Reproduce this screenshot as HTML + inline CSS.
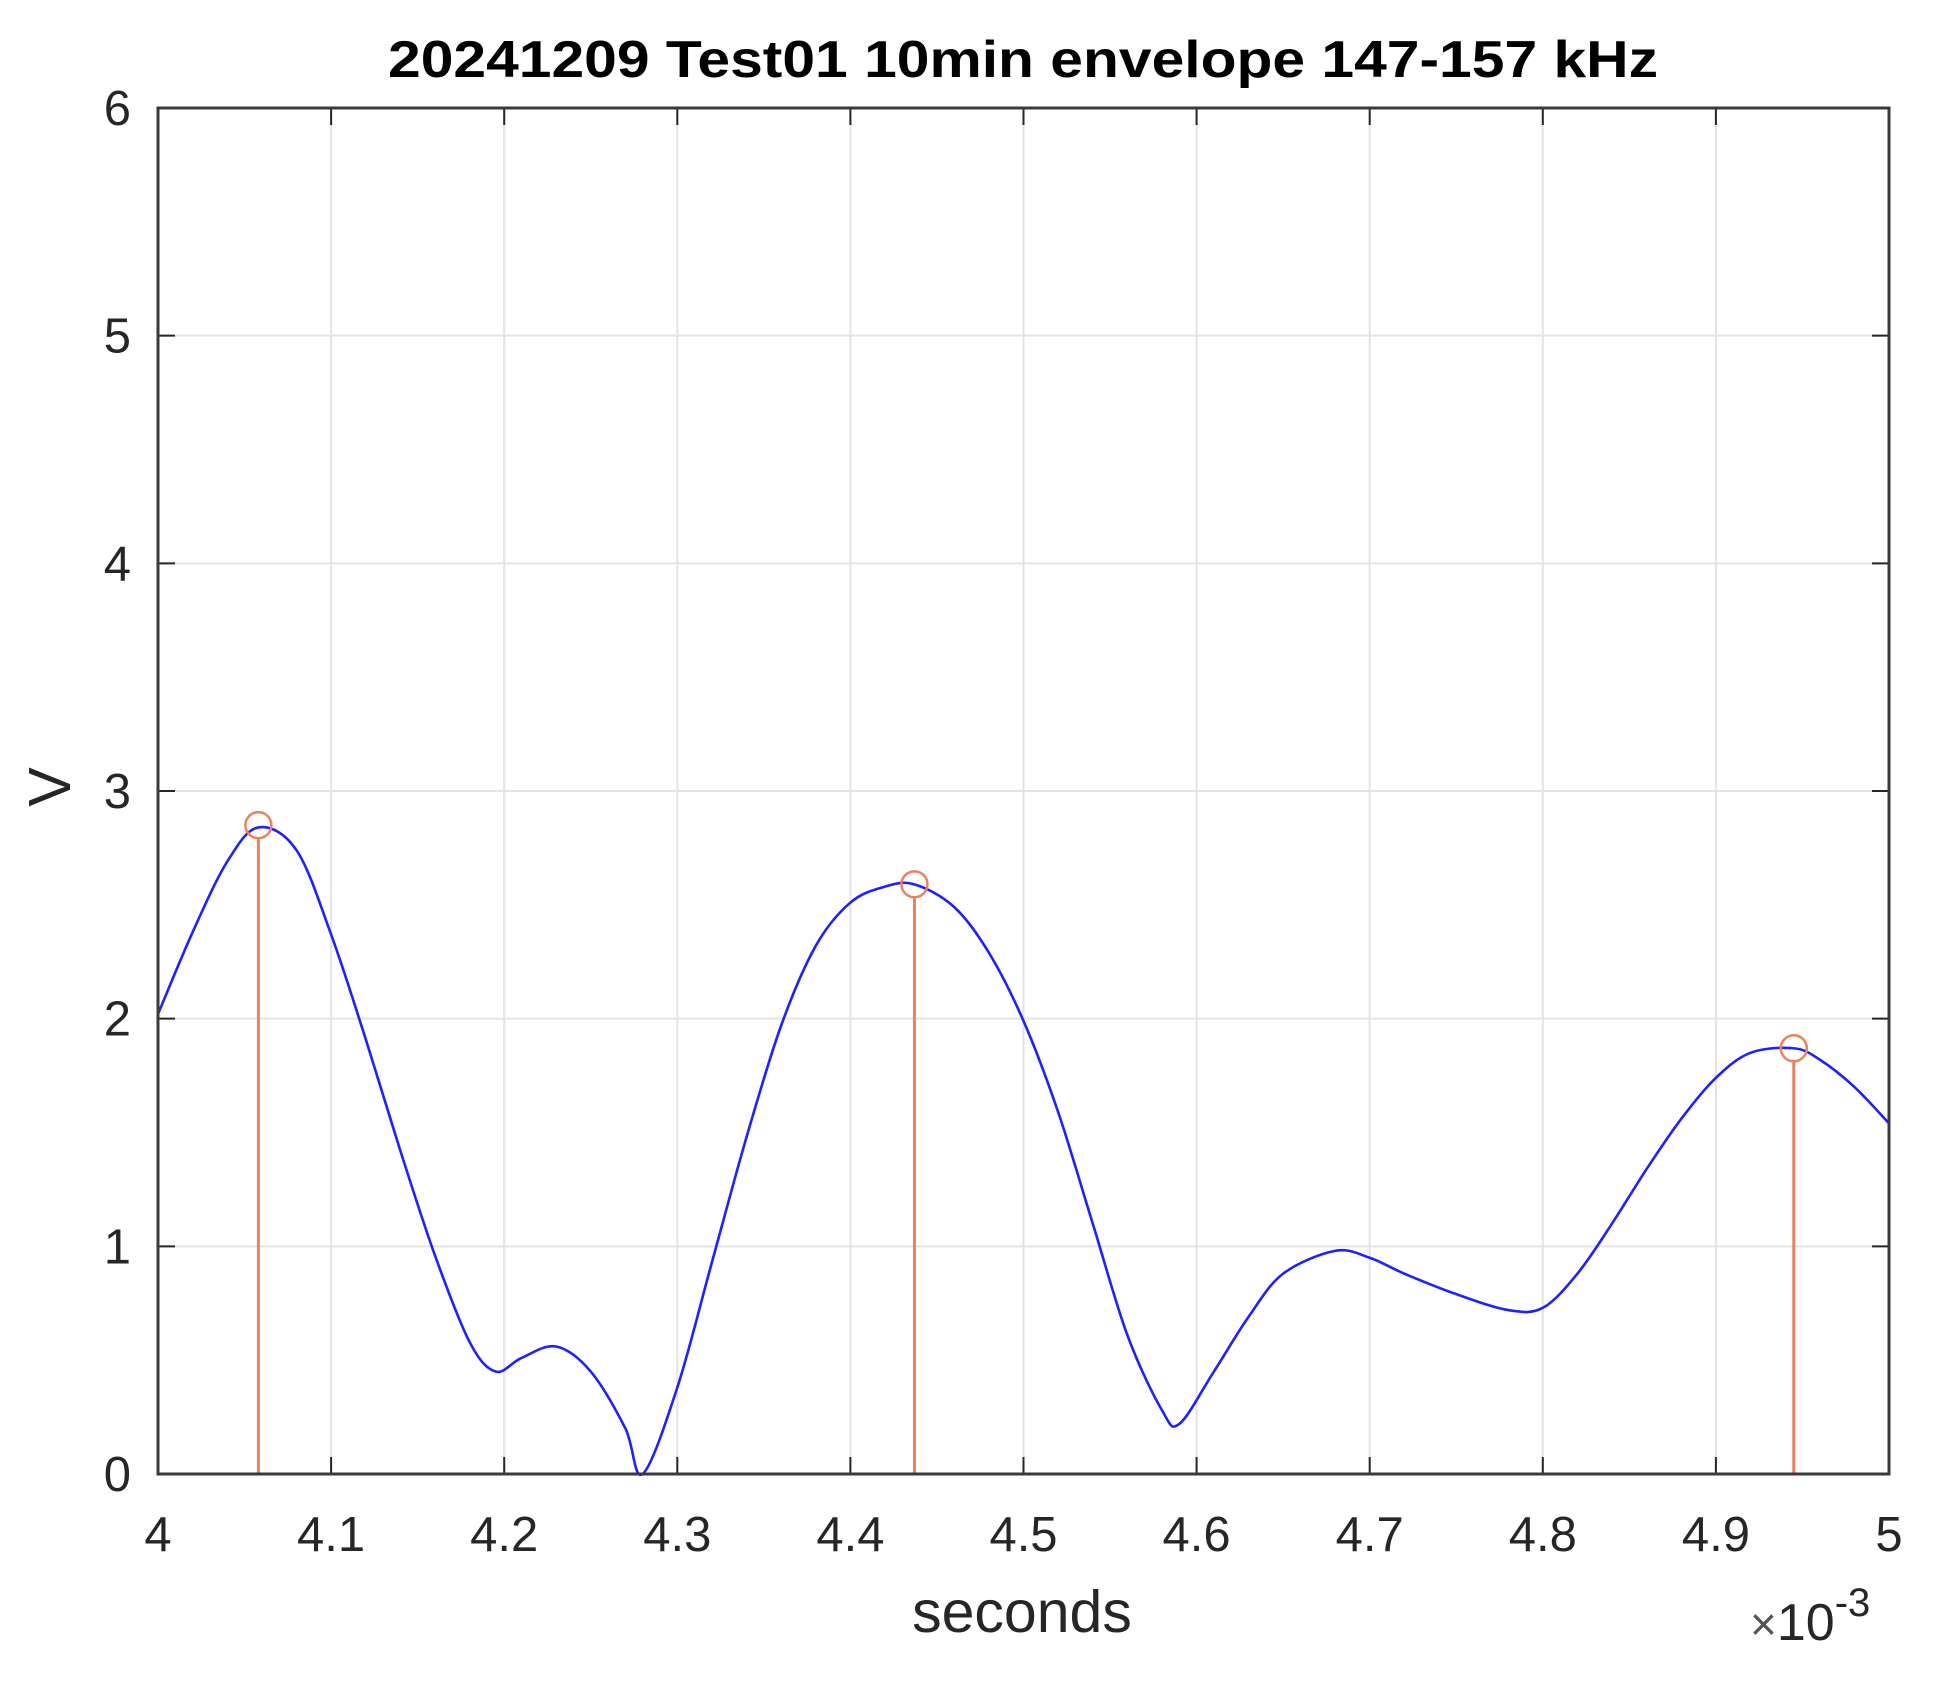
<!DOCTYPE html>
<html><head><meta charset="utf-8"><style>
html,body{margin:0;padding:0;background:#fff;width:1939px;height:1689px;overflow:hidden}
text{font-family:"Liberation Sans",Arial,sans-serif}
</style></head><body>
<svg id="chart" width="1939" height="1689" viewBox="0 0 1939 1689" xmlns="http://www.w3.org/2000/svg">
<g id="grid"></g>
<g id="series"></g>
<g id="axes"></g>
<text x="1023" y="77" text-anchor="middle" font-weight="bold" font-size="52" fill="#000" textLength="1270" lengthAdjust="spacingAndGlyphs">20241209 Test01 10min envelope 147-157 kHz</text>
<text x="1022" y="1632" text-anchor="middle" font-size="59" fill="#262626">seconds</text>
<text transform="translate(70,787) rotate(-90)" text-anchor="middle" font-size="59" fill="#262626">V</text>
<text x="1750" y="1640" font-size="52" fill="#262626"><tspan font-size="46" fill="#555">×</tspan>10<tspan dy="-24" font-size="40">-3</tspan></text>
</svg>
<script>
const xTicks=[4,4.1,4.2,4.3,4.4,4.5,4.6,4.7,4.8,4.9,5];
const xTickLabels=["4","4.1","4.2","4.3","4.4","4.5","4.6","4.7","4.8","4.9","5"];
const yTicks=[0,1,2,3,4,5,6];
const yTickLabels=["0","1","2","3","4","5","6"];
const envX=[4.0,4.02,4.04,4.058,4.08,4.1,4.12,4.14,4.16,4.18,4.195,4.21,4.23,4.25,4.27,4.28,4.30,4.32,4.34,4.36,4.38,4.40,4.42,4.437,4.46,4.48,4.50,4.52,4.54,4.56,4.58,4.59,4.61,4.63,4.65,4.68,4.70,4.72,4.75,4.78,4.80,4.82,4.84,4.86,4.88,4.90,4.92,4.945,4.96,4.98,5.0];
const envY=[2.02,2.38,2.69,2.84,2.74,2.37,1.91,1.42,0.96,0.58,0.45,0.51,0.56,0.45,0.2,0.0,0.38,0.93,1.48,1.97,2.32,2.51,2.58,2.59,2.49,2.29,1.99,1.59,1.10,0.61,0.28,0.22,0.45,0.69,0.88,0.98,0.95,0.88,0.79,0.72,0.73,0.88,1.10,1.34,1.56,1.74,1.85,1.87,1.82,1.70,1.54];
const peakX=[4.058,4.437,4.945];
const peakY=[2.85,2.59,1.87];
const L=158,R=1889,T=108,B=1474;
const xs=v=>L+(v-4)/(5-4)*(R-L);
const ys=v=>B-(v-0)/(6-0)*(B-T);
const NS="http://www.w3.org/2000/svg";
function mk(tag,attrs,parent){const e=document.createElementNS(NS,tag);for(const k in attrs)e.setAttribute(k,attrs[k]);parent.appendChild(e);return e;}
const grid=document.getElementById('grid'),series=document.getElementById('series'),axes=document.getElementById('axes');
xTicks.forEach((t,i)=>{
  const gl=mk('line',{x1:xs(t),x2:xs(t),y1:T,y2:B,stroke:'#e3e3e3','stroke-width':2},grid);
  
  
  const tk=mk('line',{x1:xs(t),x2:xs(t),y1:B,y2:B-17,stroke:'#262626','stroke-width':2},axes);
  
  
  const tk2=mk('line',{x1:xs(t),x2:xs(t),y1:T,y2:T+17,stroke:'#262626','stroke-width':2},axes);
  
  
  const lb=mk('text',{x:xs(t),y:1551,'text-anchor':'middle','font-size':49,fill:'#262626'},axes);
  lb.textContent=xTickLabels[i];
  
  
});
yTicks.forEach((t,i)=>{
  const gl=mk('line',{x1:L,x2:R,y1:ys(t),y2:ys(t),stroke:'#e3e3e3','stroke-width':2},grid);
  
  
  const tk=mk('line',{x1:L,x2:L+17,y1:ys(t),y2:ys(t),stroke:'#262626','stroke-width':2},axes);
  
  
  const tk2=mk('line',{x1:R,x2:R-17,y1:ys(t),y2:ys(t),stroke:'#262626','stroke-width':2},axes);
  
  
  const lb=mk('text',{x:131,y:ys(t)+17,'text-anchor':'end','font-size':49,fill:'#262626'},axes);
  lb.textContent=yTickLabels[i];
  
  
});
const box=mk('rect',{x:L,y:T,width:R-L,height:B-T,fill:'none',stroke:'#3a3a3a','stroke-width':3},axes);


const P=envX.map((x,i)=>[xs(x),ys(envY[i])]);
let d=`M${P[0][0]},${P[0][1]}`;
for(let i=0;i<P.length-1;i++){
  const p0=P[Math.max(0,i-1)],p1=P[i],p2=P[i+1],p3=P[Math.min(P.length-1,i+2)];
  const c1=[p1[0]+(p2[0]-p0[0])/6,p1[1]+(p2[1]-p0[1])/6];
  const c2=[p2[0]-(p3[0]-p1[0])/6,p2[1]-(p3[1]-p1[1])/6];
  d+=` C${c1[0]},${c1[1]} ${c2[0]},${c2[1]} ${p2[0]},${p2[1]}`;
}
const curve=mk('path',{d:d,fill:'none',stroke:'#1f1fff','stroke-width':2.6},series);


peakX.forEach((x,i)=>{
  const st=mk('line',{x1:xs(x),x2:xs(x),y1:B,y2:ys(peakY[i])+12,stroke:'#e8825f','stroke-width':3},series);
  
  
  const c=mk('circle',{cx:xs(x),cy:ys(peakY[i]),r:13,fill:'none',stroke:'#e8825f','stroke-width':2.5},series);
  
  
});
</script>
</body></html>
